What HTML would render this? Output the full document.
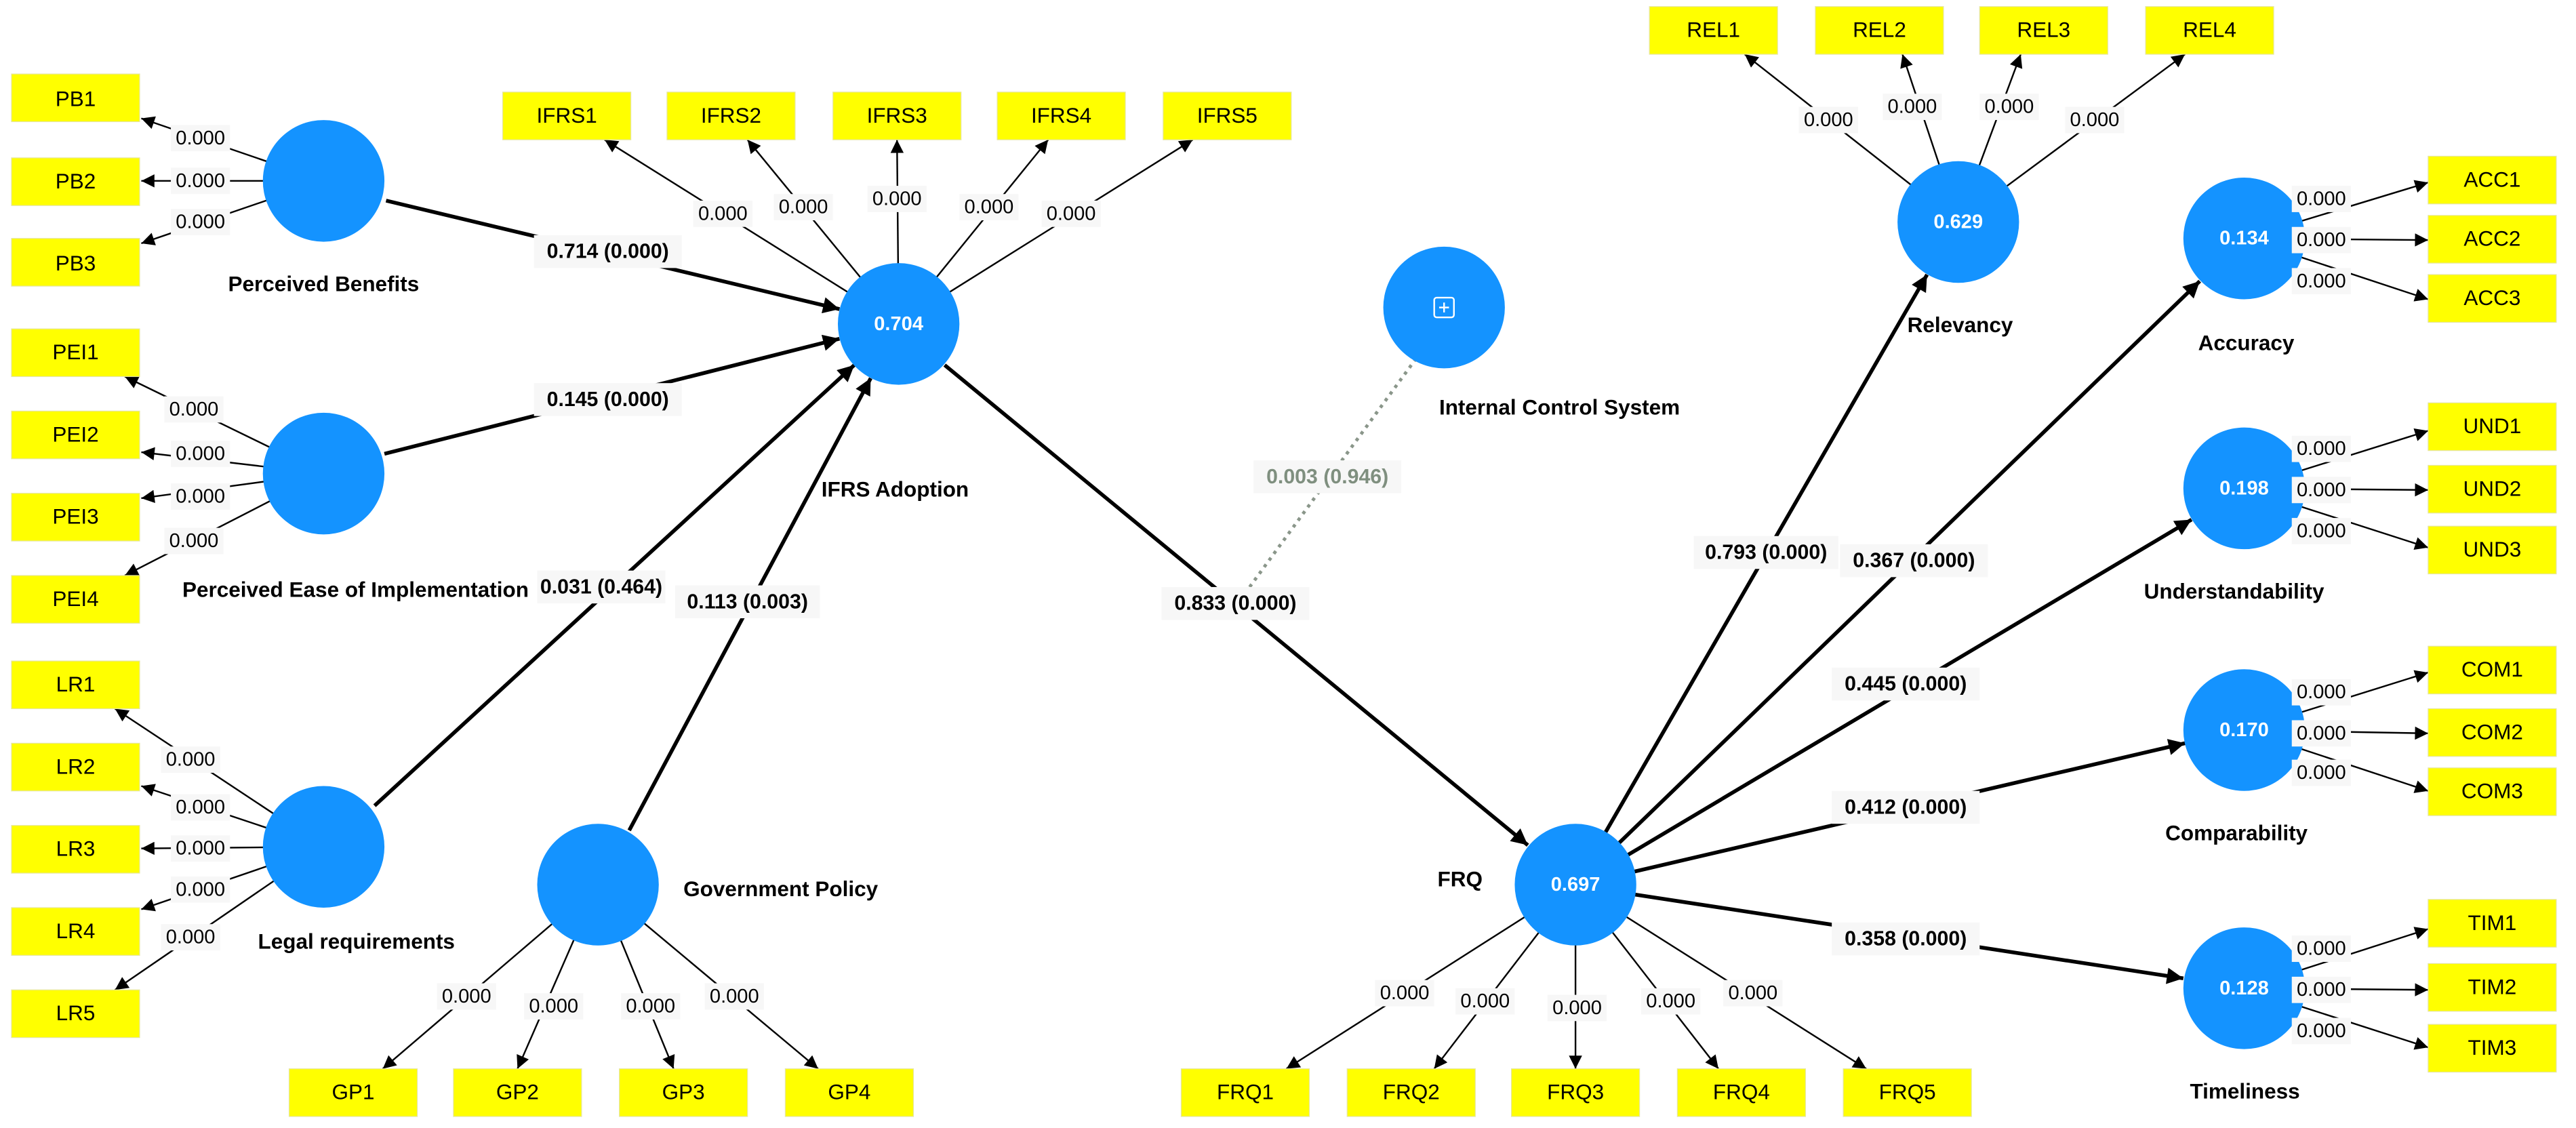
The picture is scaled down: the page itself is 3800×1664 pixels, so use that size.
<!DOCTYPE html>
<html><head><meta charset="utf-8"><style>
html,body{margin:0;padding:0;background:#fff;}
svg{display:block;}
text{font-family:"Liberation Sans",sans-serif;}
.ind{fill:#ffff00;stroke:#e6e6a0;stroke-width:0.5;}
.it{font-size:13px;text-anchor:middle;dominant-baseline:central;fill:#000;}
.lv{fill:#1493ff;}
.lvt{font-size:12px;font-weight:bold;fill:#fff;text-anchor:middle;dominant-baseline:central;}
.nm{font-size:13px;font-weight:bold;fill:#000;}
.ld{stroke:#000;stroke-width:1;fill:none;}
.st{stroke:#000;stroke-width:2.3;fill:none;}
.lb{fill:#f7f7f7;}
.lt{font-size:12px;text-anchor:middle;dominant-baseline:central;fill:#000;}
.pt{font-size:12.5px;font-weight:bold;text-anchor:middle;dominant-baseline:central;fill:#000;}
</style></head><body>
<svg width="3800" height="1664" viewBox="0 0 1568 686" preserveAspectRatio="none" xmlns="http://www.w3.org/2000/svg">
<defs>
<marker id="a1" viewBox="0 0 10 10" refX="10" refY="5" markerWidth="10" markerHeight="8" markerUnits="userSpaceOnUse" orient="auto"><path d="M0,0L10,5L0,10z" fill="#000"/></marker>
<marker id="a2" viewBox="0 0 10 10" refX="10" refY="5" markerWidth="13" markerHeight="10" markerUnits="userSpaceOnUse" orient="auto"><path d="M0,0L10,5L0,10z" fill="#000"/></marker>
</defs>

<!-- loadings -->
<g class="ld" marker-end="url(#a1)">
<line x1="197" y1="110" x2="86" y2="72"/><line x1="197" y1="110" x2="86" y2="110"/><line x1="197" y1="110" x2="86" y2="148"/>
<line x1="197" y1="288" x2="76" y2="229"/><line x1="197" y1="288" x2="86" y2="275"/><line x1="197" y1="288" x2="86" y2="303"/><line x1="197" y1="288" x2="76" y2="350"/>
<line x1="197" y1="515" x2="70" y2="431"/><line x1="197" y1="515" x2="86" y2="478"/><line x1="197" y1="515" x2="86" y2="516"/><line x1="197" y1="515" x2="86" y2="553"/><line x1="197" y1="515" x2="70" y2="602"/>
<line x1="547" y1="197" x2="368" y2="85"/><line x1="547" y1="197" x2="455" y2="85"/><line x1="547" y1="197" x2="546" y2="85"/><line x1="547" y1="197" x2="638" y2="85"/><line x1="547" y1="197" x2="726" y2="85"/>
<line x1="1192" y1="135" x2="1062" y2="33"/><line x1="1192" y1="135" x2="1158" y2="33"/><line x1="1192" y1="135" x2="1230" y2="33"/><line x1="1192" y1="135" x2="1330" y2="33"/>
<line x1="1366" y1="145" x2="1478" y2="111"/><line x1="1366" y1="145" x2="1478" y2="146"/><line x1="1366" y1="145" x2="1478" y2="182"/>
<line x1="1366" y1="297" x2="1478" y2="262"/><line x1="1366" y1="297" x2="1478" y2="298"/><line x1="1366" y1="297" x2="1478" y2="333"/>
<line x1="1366" y1="444" x2="1478" y2="409"/><line x1="1366" y1="444" x2="1478" y2="446"/><line x1="1366" y1="444" x2="1478" y2="481"/>
<line x1="1366" y1="601" x2="1478" y2="565"/><line x1="1366" y1="601" x2="1478" y2="602"/><line x1="1366" y1="601" x2="1478" y2="637"/>
<line x1="364" y1="538" x2="233" y2="650"/><line x1="364" y1="538" x2="315" y2="650"/><line x1="364" y1="538" x2="410" y2="650"/><line x1="364" y1="538" x2="498" y2="650"/>
<line x1="959" y1="538" x2="783" y2="650"/><line x1="959" y1="538" x2="873" y2="650"/><line x1="959" y1="538" x2="959" y2="650"/><line x1="959" y1="538" x2="1046" y2="650"/><line x1="959" y1="538" x2="1136" y2="650"/>
</g>

<!-- structural -->
<g class="st" marker-end="url(#a2)">
<line x1="235" y1="122" x2="511" y2="188"/>
<line x1="234" y1="276" x2="511" y2="206"/>
<line x1="228" y1="490" x2="520" y2="222"/>
<line x1="383" y1="505" x2="530" y2="230"/>
<line x1="575" y1="222" x2="930" y2="514"/>
<line x1="971" y1="517" x2="1173" y2="167"/>
<line x1="980" y1="518" x2="1339" y2="171"/>
<line x1="984" y1="524" x2="1334" y2="316"/>
<line x1="995" y1="530" x2="1330" y2="452"/>
<line x1="995" y1="544" x2="1329" y2="595"/>
</g>
<line x1="862" y1="218" x2="757" y2="362" stroke="#8a968a" stroke-width="2" stroke-dasharray="2,3"/>

<!-- indicators -->
<g>
<rect class="ind" x="7" y="45" width="78" height="29"/><text class="it" x="46" y="60">PB1</text>
<rect class="ind" x="7" y="96" width="78" height="29"/><text class="it" x="46" y="110">PB2</text>
<rect class="ind" x="7" y="145" width="78" height="29"/><text class="it" x="46" y="160">PB3</text>
<rect class="ind" x="7" y="200" width="78" height="29"/><text class="it" x="46" y="214">PEI1</text>
<rect class="ind" x="7" y="250" width="78" height="29"/><text class="it" x="46" y="264">PEI2</text>
<rect class="ind" x="7" y="300" width="78" height="29"/><text class="it" x="46" y="314">PEI3</text>
<rect class="ind" x="7" y="350" width="78" height="29"/><text class="it" x="46" y="364">PEI4</text>
<rect class="ind" x="7" y="402" width="78" height="29"/><text class="it" x="46" y="416">LR1</text>
<rect class="ind" x="7" y="452" width="78" height="29"/><text class="it" x="46" y="466">LR2</text>
<rect class="ind" x="7" y="502" width="78" height="29"/><text class="it" x="46" y="516">LR3</text>
<rect class="ind" x="7" y="552" width="78" height="29"/><text class="it" x="46" y="566">LR4</text>
<rect class="ind" x="7" y="602" width="78" height="29"/><text class="it" x="46" y="616">LR5</text>
<rect class="ind" x="306" y="56" width="78" height="29"/><text class="it" x="345" y="70">IFRS1</text>
<rect class="ind" x="406" y="56" width="78" height="29"/><text class="it" x="445" y="70">IFRS2</text>
<rect class="ind" x="507" y="56" width="78" height="29"/><text class="it" x="546" y="70">IFRS3</text>
<rect class="ind" x="607" y="56" width="78" height="29"/><text class="it" x="646" y="70">IFRS4</text>
<rect class="ind" x="708" y="56" width="78" height="29"/><text class="it" x="747" y="70">IFRS5</text>
<rect class="ind" x="1004" y="4" width="78" height="29"/><text class="it" x="1043" y="18">REL1</text>
<rect class="ind" x="1105" y="4" width="78" height="29"/><text class="it" x="1144" y="18">REL2</text>
<rect class="ind" x="1205" y="4" width="78" height="29"/><text class="it" x="1244" y="18">REL3</text>
<rect class="ind" x="1306" y="4" width="78" height="29"/><text class="it" x="1345" y="18">REL4</text>
<rect class="ind" x="1478" y="95" width="78" height="29"/><text class="it" x="1517" y="109">ACC1</text>
<rect class="ind" x="1478" y="131" width="78" height="29"/><text class="it" x="1517" y="145">ACC2</text>
<rect class="ind" x="1478" y="167" width="78" height="29"/><text class="it" x="1517" y="181">ACC3</text>
<rect class="ind" x="1478" y="245" width="78" height="29"/><text class="it" x="1517" y="259">UND1</text>
<rect class="ind" x="1478" y="283" width="78" height="29"/><text class="it" x="1517" y="297">UND2</text>
<rect class="ind" x="1478" y="320" width="78" height="29"/><text class="it" x="1517" y="334">UND3</text>
<rect class="ind" x="1478" y="393" width="78" height="29"/><text class="it" x="1517" y="407">COM1</text>
<rect class="ind" x="1478" y="431" width="78" height="29"/><text class="it" x="1517" y="445">COM2</text>
<rect class="ind" x="1478" y="467" width="78" height="29"/><text class="it" x="1517" y="481">COM3</text>
<rect class="ind" x="1478" y="547" width="78" height="29"/><text class="it" x="1517" y="561">TIM1</text>
<rect class="ind" x="1478" y="586" width="78" height="29"/><text class="it" x="1517" y="600">TIM2</text>
<rect class="ind" x="1478" y="623" width="78" height="29"/><text class="it" x="1517" y="637">TIM3</text>
<rect class="ind" x="176" y="650" width="78" height="29"/><text class="it" x="215" y="664">GP1</text>
<rect class="ind" x="276" y="650" width="78" height="29"/><text class="it" x="315" y="664">GP2</text>
<rect class="ind" x="377" y="650" width="78" height="29"/><text class="it" x="416" y="664">GP3</text>
<rect class="ind" x="478" y="650" width="78" height="29"/><text class="it" x="517" y="664">GP4</text>
<rect class="ind" x="719" y="650" width="78" height="29"/><text class="it" x="758" y="664">FRQ1</text>
<rect class="ind" x="820" y="650" width="78" height="29"/><text class="it" x="859" y="664">FRQ2</text>
<rect class="ind" x="920" y="650" width="78" height="29"/><text class="it" x="959" y="664">FRQ3</text>
<rect class="ind" x="1021" y="650" width="78" height="29"/><text class="it" x="1060" y="664">FRQ4</text>
<rect class="ind" x="1122" y="650" width="78" height="29"/><text class="it" x="1161" y="664">FRQ5</text>
</g>

<!-- latent variables -->
<g>
<circle class="lv" cx="197" cy="110" r="37"/>
<circle class="lv" cx="197" cy="288" r="37"/>
<circle class="lv" cx="197" cy="515" r="37"/>
<circle class="lv" cx="364" cy="538" r="37"/>
<circle class="lv" cx="547" cy="197" r="37"/><text class="lvt" x="547" y="197">0.704</text>
<circle class="lv" cx="879" cy="187" r="37"/>
<rect x="873" y="181" width="12" height="12" rx="1.5" fill="none" stroke="#fff" stroke-width="1"/>
<line x1="879" y1="184" x2="879" y2="190" stroke="#fff" stroke-width="1"/><line x1="876" y1="187" x2="882" y2="187" stroke="#fff" stroke-width="1"/>
<circle class="lv" cx="1192" cy="135" r="37"/><text class="lvt" x="1192" y="135">0.629</text>
<circle class="lv" cx="1366" cy="145" r="37"/><text class="lvt" x="1366" y="145">0.134</text>
<circle class="lv" cx="1366" cy="297" r="37"/><text class="lvt" x="1366" y="297">0.198</text>
<circle class="lv" cx="1366" cy="444" r="37"/><text class="lvt" x="1366" y="444">0.170</text>
<circle class="lv" cx="1366" cy="601" r="37"/><text class="lvt" x="1366" y="601">0.128</text>
<circle class="lv" cx="959" cy="538" r="37"/><text class="lvt" x="959" y="538">0.697</text>
</g>

<!-- names -->
<text class="nm" x="197" y="177" text-anchor="middle">Perceived Benefits</text>
<text class="nm" x="111" y="363">Perceived Ease of Implementation</text>
<text class="nm" x="157" y="577">Legal requirements</text>
<text class="nm" x="416" y="545">Government Policy</text>
<text class="nm" x="500" y="302">IFRS Adoption</text>
<text class="nm" x="876" y="252">Internal Control System</text>
<text class="nm" x="1161" y="202">Relevancy</text>
<text class="nm" x="1338" y="213">Accuracy</text>
<text class="nm" x="1305" y="364">Understandability</text>
<text class="nm" x="1318" y="511">Comparability</text>
<text class="nm" x="1333" y="668">Timeliness</text>
<text class="nm" x="875" y="539">FRQ</text>

<!-- path labels -->
<g>
<rect class="lb" x="325" y="143" width="90" height="20"/><text class="pt" x="370" y="153">0.714 (0.000)</text>
<rect class="lb" x="325" y="233" width="90" height="20"/><text class="pt" x="370" y="243">0.145 (0.000)</text>
<rect class="lb" x="327" y="347" width="78" height="20"/><text class="pt" x="366" y="357">0.031 (0.464)</text>
<rect class="lb" x="411" y="356" width="88" height="20"/><text class="pt" x="455" y="366">0.113 (0.003)</text>
<rect class="lb" x="707" y="357" width="90" height="20"/><text class="pt" x="752" y="367">0.833 (0.000)</text>
<rect class="lb" x="763" y="280" width="90" height="20"/><text class="pt" x="808" y="290" style="fill:#7f8f7f">0.003 (0.946)</text>
<rect class="lb" x="1031" y="326" width="88" height="20"/><text class="pt" x="1075" y="336">0.793 (0.000)</text>
<rect class="lb" x="1120" y="331" width="90" height="20"/><text class="pt" x="1165" y="341">0.367 (0.000)</text>
<rect class="lb" x="1115" y="406" width="90" height="20"/><text class="pt" x="1160" y="416">0.445 (0.000)</text>
<rect class="lb" x="1115" y="481" width="90" height="20"/><text class="pt" x="1160" y="491">0.412 (0.000)</text>
<rect class="lb" x="1115" y="561" width="90" height="20"/><text class="pt" x="1160" y="571">0.358 (0.000)</text>
</g>

<!-- loading labels -->
<g>
<rect class="lb" x="104" y="76" width="36" height="16"/><text class="lt" x="122" y="84">0.000</text>
<rect class="lb" x="104" y="102" width="36" height="16"/><text class="lt" x="122" y="110">0.000</text>
<rect class="lb" x="104" y="127" width="36" height="16"/><text class="lt" x="122" y="135">0.000</text>
<rect class="lb" x="100" y="241" width="36" height="16"/><text class="lt" x="118" y="249">0.000</text>
<rect class="lb" x="104" y="268" width="36" height="16"/><text class="lt" x="122" y="276">0.000</text>
<rect class="lb" x="104" y="294" width="36" height="16"/><text class="lt" x="122" y="302">0.000</text>
<rect class="lb" x="100" y="321" width="36" height="16"/><text class="lt" x="118" y="329">0.000</text>
<rect class="lb" x="98" y="454" width="36" height="16"/><text class="lt" x="116" y="462">0.000</text>
<rect class="lb" x="104" y="483" width="36" height="16"/><text class="lt" x="122" y="491">0.000</text>
<rect class="lb" x="104" y="508" width="36" height="16"/><text class="lt" x="122" y="516">0.000</text>
<rect class="lb" x="104" y="533" width="36" height="16"/><text class="lt" x="122" y="541">0.000</text>
<rect class="lb" x="98" y="562" width="36" height="16"/><text class="lt" x="116" y="570">0.000</text>
<rect class="lb" x="422" y="122" width="36" height="16"/><text class="lt" x="440" y="130">0.000</text>
<rect class="lb" x="471" y="118" width="36" height="16"/><text class="lt" x="489" y="126">0.000</text>
<rect class="lb" x="528" y="113" width="36" height="16"/><text class="lt" x="546" y="121">0.000</text>
<rect class="lb" x="584" y="118" width="36" height="16"/><text class="lt" x="602" y="126">0.000</text>
<rect class="lb" x="634" y="122" width="36" height="16"/><text class="lt" x="652" y="130">0.000</text>
<rect class="lb" x="1095" y="65" width="36" height="16"/><text class="lt" x="1113" y="73">0.000</text>
<rect class="lb" x="1146" y="57" width="36" height="16"/><text class="lt" x="1164" y="65">0.000</text>
<rect class="lb" x="1205" y="57" width="36" height="16"/><text class="lt" x="1223" y="65">0.000</text>
<rect class="lb" x="1257" y="65" width="36" height="16"/><text class="lt" x="1275" y="73">0.000</text>
<rect class="lb" x="1395" y="113" width="36" height="16"/><text class="lt" x="1413" y="121">0.000</text>
<rect class="lb" x="1395" y="138" width="36" height="16"/><text class="lt" x="1413" y="146">0.000</text>
<rect class="lb" x="1395" y="163" width="36" height="16"/><text class="lt" x="1413" y="171">0.000</text>
<rect class="lb" x="1395" y="265" width="36" height="16"/><text class="lt" x="1413" y="273">0.000</text>
<rect class="lb" x="1395" y="290" width="36" height="16"/><text class="lt" x="1413" y="298">0.000</text>
<rect class="lb" x="1395" y="315" width="36" height="16"/><text class="lt" x="1413" y="323">0.000</text>
<rect class="lb" x="1395" y="413" width="36" height="16"/><text class="lt" x="1413" y="421">0.000</text>
<rect class="lb" x="1395" y="438" width="36" height="16"/><text class="lt" x="1413" y="446">0.000</text>
<rect class="lb" x="1395" y="462" width="36" height="16"/><text class="lt" x="1413" y="470">0.000</text>
<rect class="lb" x="1395" y="569" width="36" height="16"/><text class="lt" x="1413" y="577">0.000</text>
<rect class="lb" x="1395" y="594" width="36" height="16"/><text class="lt" x="1413" y="602">0.000</text>
<rect class="lb" x="1395" y="619" width="36" height="16"/><text class="lt" x="1413" y="627">0.000</text>
<rect class="lb" x="266" y="598" width="36" height="16"/><text class="lt" x="284" y="606">0.000</text>
<rect class="lb" x="319" y="604" width="36" height="16"/><text class="lt" x="337" y="612">0.000</text>
<rect class="lb" x="378" y="604" width="36" height="16"/><text class="lt" x="396" y="612">0.000</text>
<rect class="lb" x="429" y="598" width="36" height="16"/><text class="lt" x="447" y="606">0.000</text>
<rect class="lb" x="837" y="596" width="36" height="16"/><text class="lt" x="855" y="604">0.000</text>
<rect class="lb" x="886" y="601" width="36" height="16"/><text class="lt" x="904" y="609">0.000</text>
<rect class="lb" x="942" y="605" width="36" height="16"/><text class="lt" x="960" y="613">0.000</text>
<rect class="lb" x="999" y="601" width="36" height="16"/><text class="lt" x="1017" y="609">0.000</text>
<rect class="lb" x="1049" y="596" width="36" height="16"/><text class="lt" x="1067" y="604">0.000</text>
</g>
</svg>
</body></html>
